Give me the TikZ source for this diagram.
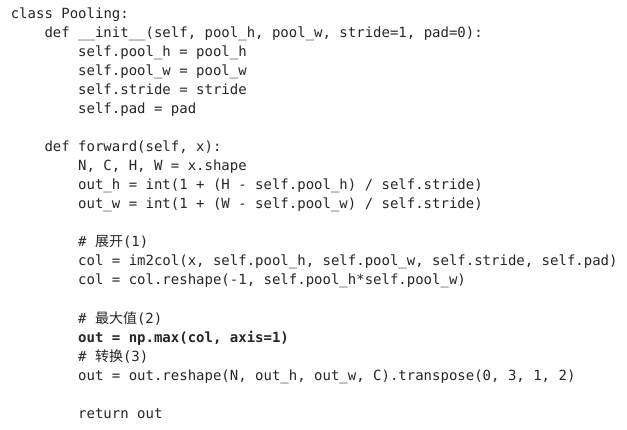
\documentclass[tikz,border=0pt]{standalone}
\usepackage{fontspec}
\setmonofont{DejaVu Sans Mono}
\newfontfamily\cjk{Noto Sans CJK SC}
\usepackage[]{xcolor}
\definecolor{codegray}{HTML}{262626}

\begin{document}
\begin{tikzpicture}[x = 1pt, y = 1pt,
  codeline/.style = {anchor = base west, inner sep = 0pt, color = codegray,
    font = \ttfamily\fontsize{14}{19}\selectfont},
  boldline/.style = {codeline, font = \ttfamily\bfseries\fontsize{14}{19}\selectfont}]
\path [fill = white] (0,0) rectangle (627,429); % page of 627 times 429
\useasboundingbox (0,0) rectangle (627,429);
\node [codeline] (cls) at (10.6, 410) {class Pooling:};
\node [codeline] (init) at (44.3, 391) {def \_\_init\_\_(self, pool\_h, pool\_w, stride=1, pad=0):};
\node [codeline] (ph) at (78, 372) {self.pool\_h = pool\_h};
\node [codeline] (pw) at (78, 353) {self.pool\_w = pool\_w};
\node [codeline] (st) at (78, 334) {self.stride = stride};
\node [codeline] (pd) at (78, 315) {self.pad = pad};
\node [codeline] (fwd) at (44.3, 277) {def forward(self, x):};
\node [codeline] (shp) at (78, 258) {N, C, H, W = x.shape};
\node [codeline] (oh) at (78, 239) {out\_h = int(1 + (H - self.pool\_h) / self.stride)};
\node [codeline] (ow) at (78, 220) {out\_w = int(1 + (W - self.pool\_w) / self.stride)};
\node [codeline] (c1) at (78, 182) {\# {\cjk 展开}(1)};
\node [codeline] (im) at (78, 163) {col = im2col(x, self.pool\_h, self.pool\_w, self.stride, self.pad)};
\node [codeline] (rs) at (78, 144) {col = col.reshape(-1, self.pool\_h*self.pool\_w)};
\node [codeline] (c2) at (78, 106) {\# {\cjk 最大值}(2)};
\node [boldline] (mx) at (78, 87) {out = np.max(col, axis=1)};
\node [codeline] (c3) at (78, 68) {\# {\cjk 转换}(3)};
\node [codeline] (tr) at (78, 49) {out = out.reshape(N, out\_h, out\_w, C).transpose(0, 3, 1, 2)};
\node [codeline] (ret) at (78, 11) {return out};
\end{tikzpicture}
\end{document}
